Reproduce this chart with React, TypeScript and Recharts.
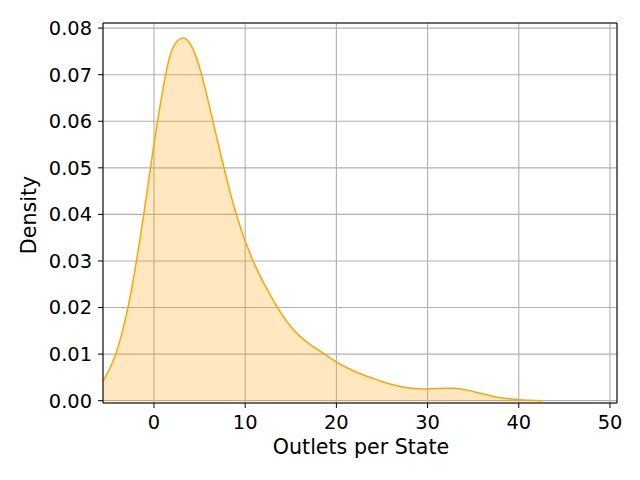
import { AreaChart, Area, XAxis, YAxis, CartesianGrid, ReferenceLine, Label } from "recharts";

// KDE of outlets per state
const outlets = [
  -5.59, -5, -4.5, -4, -3.5, -3, -2.5, -2, -1.5, -1, -0.5, 0, 0.5, 1, 1.5, 2, 2.5, 3, 3.5, 4, 4.5, 5, 5.5, 6, 6.5,
  7, 7.5, 8, 8.5, 9, 9.5, 10, 10.5, 11, 11.5, 12, 12.5, 13, 13.5, 14, 15, 16, 17, 18, 19, 20, 21, 22, 23, 24, 25,
  26, 27, 28, 29, 30, 31, 32, 33, 34, 35, 36, 37, 38, 39, 40, 41, 42, 42.6,
];
const density = [
  0.0042, 0.0062, 0.0084, 0.0111, 0.0145, 0.0186, 0.0234, 0.029, 0.0351, 0.0416, 0.0485, 0.0552, 0.0615, 0.0672,
  0.0724, 0.0758, 0.0773, 0.0779, 0.0779, 0.0767, 0.0746, 0.0717, 0.068, 0.0639, 0.0597, 0.0555, 0.0514, 0.0474,
  0.0436, 0.0402, 0.0371, 0.0343, 0.0317, 0.0294, 0.0273, 0.0254, 0.0236, 0.0218, 0.0201, 0.0186, 0.0158, 0.0138,
  0.0122, 0.0109, 0.0096, 0.0083, 0.0072, 0.0063, 0.0055, 0.0048, 0.0041, 0.0035, 0.003, 0.0027, 0.0025, 0.0025,
  0.0026, 0.0027, 0.0027, 0.0024, 0.002, 0.0015, 0.001, 0.0006, 0.0004, 0.0002, 0.0001, 0.00003, 0,
];
const xTicks = [0, 10, 20, 30, 40, 50];
const yTicks = [0, 0.01, 0.02, 0.03, 0.04, 0.05, 0.06, 0.07, 0.08];

const X_MIN = -5.59;
const X_MAX = 50.77;
const Y_MIN = -0.0005;
const Y_MAX = 0.0811;

const data = outlets.map((x, i) => ({ x, d: density[i] }));

const font = "DejaVu Sans, sans-serif";
const tickStyle = { fill: "#000", fontSize: 19.4, fontFamily: font };
const labelSize = 20.6;

export default function App() {
  return (
    <div style={{ position: "absolute", left: 0, top: 0, background: "#fff" }}>
      <AreaChart width={640} height={480} data={data} margin={{ top: 23, right: 23, bottom: 27, left: 43 }}>
        <CartesianGrid stroke="#b0b0b0" strokeWidth={1.1} />
        <XAxis
          dataKey="x"
          type="number"
          domain={[X_MIN, X_MAX]}
          ticks={xTicks}
          allowDataOverflow
          height={50}
          tickSize={5}
          tickMargin={7}
          tick={tickStyle}
          stroke="#000"
          tickLine={{ stroke: "#000" }}
        >
          <Label
            content={({ viewBox }: any) => (
              <text
                x={viewBox.x + viewBox.width / 2 + 1}
                y={viewBox.y + 51}
                textAnchor="middle"
                fontSize={labelSize}
                fontFamily={font}
                fill="#000"
              >
                Outlets per State
              </text>
            )}
          />
        </XAxis>
        <YAxis
          type="number"
          domain={[Y_MIN, Y_MAX]}
          ticks={yTicks}
          allowDataOverflow
          width={60}
          tickSize={5}
          tickMargin={6}
          tick={tickStyle}
          tickFormatter={(v: number) => v.toFixed(2)}
          stroke="#000"
          tickLine={{ stroke: "#000" }}
        >
          <Label
            content={({ viewBox }: any) => {
              const cx = 36;
              const cy = viewBox.y + viewBox.height / 2 + 2;
              return (
                <text
                  x={cx}
                  y={cy}
                  transform={`rotate(-90, ${cx}, ${cy})`}
                  textAnchor="middle"
                  fontSize={labelSize}
                  fontFamily={font}
                  fill="#000"
                >
                  Density
                </text>
              );
            }}
          />
        </YAxis>
        <Area
          type="basis"
          dataKey="d"
          stroke="#ffa500"
          strokeWidth={1.5}
          fill="#ffa500"
          fillOpacity={0.25}
          baseValue={0}
          dot={false}
          activeDot={false}
          isAnimationActive={false}
        />
        <ReferenceLine y={Y_MAX} stroke="#000" strokeWidth={1} ifOverflow="extendDomain" />
        <ReferenceLine x={X_MAX} stroke="#000" strokeWidth={1} ifOverflow="extendDomain" />
      </AreaChart>
    </div>
  );
}
